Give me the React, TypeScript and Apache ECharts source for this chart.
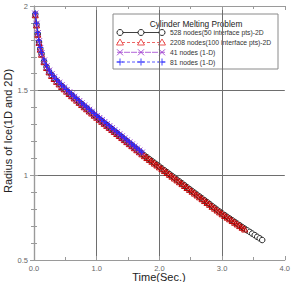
import React, { useEffect, useRef } from "react";
import * as echarts from "echarts";

// Time (s) for the 528-node 2-D run
const time528 = [
  0.02, 0.04, 0.06, 0.08, 0.1, 0.12, 0.16, 0.2, 0.24, 0.28, 0.32, 0.36, 0.4, 0.44, 0.48, 0.52, 0.56,
  0.6, 0.64, 0.68, 0.72, 0.76, 0.8, 0.84, 0.88, 0.92, 0.96, 1.0,
  1.04, 1.08, 1.12, 1.16, 1.2, 1.24, 1.28, 1.32, 1.36, 1.4, 1.44, 1.48, 1.52, 1.56, 1.6, 1.64, 1.68,
  1.72, 1.76,
  1.8, 1.84, 1.88, 1.92, 1.96, 2.0, 2.04, 2.08, 2.12, 2.16, 2.2,
  2.24, 2.28, 2.32, 2.36, 2.4, 2.44, 2.48, 2.52, 2.56, 2.6, 2.64, 2.68, 2.72, 2.76, 2.8, 2.84, 2.88,
  2.92, 2.96, 3.0,
  3.04, 3.08, 3.12, 3.16, 3.2, 3.24, 3.28, 3.32, 3.36,
  3.4, 3.44, 3.48, 3.52, 3.56, 3.6, 3.64,
];
const radius528 = [
  1.95, 1.89, 1.835, 1.787, 1.747, 1.717, 1.673, 1.639, 1.613, 1.592, 1.574, 1.557, 1.542, 1.527,
  1.513, 1.499, 1.485, 1.472, 1.459, 1.446, 1.433, 1.42, 1.407, 1.395, 1.382, 1.37, 1.357, 1.345,
  1.333, 1.321, 1.309, 1.297, 1.285, 1.273, 1.261, 1.249, 1.237, 1.225, 1.213, 1.201, 1.189, 1.177,
  1.165, 1.153, 1.141, 1.129, 1.118,
  1.107, 1.096, 1.085, 1.074, 1.063, 1.052, 1.041, 1.03, 1.019, 1.008, 0.997,
  0.986, 0.975, 0.964, 0.953, 0.942, 0.93, 0.919, 0.908, 0.897, 0.886, 0.875, 0.864, 0.853, 0.842,
  0.831, 0.819, 0.808, 0.797, 0.786, 0.775,
  0.765, 0.755, 0.745, 0.735, 0.725, 0.715, 0.705, 0.695, 0.685,
  0.675, 0.666, 0.656, 0.647, 0.637, 0.628, 0.618,
];

// Time (s) for the 2208-node 2-D run
const time2208 = [
  0.02, 0.04, 0.06, 0.08, 0.1, 0.12, 0.16, 0.2, 0.24, 0.28, 0.32, 0.36, 0.4, 0.44, 0.48, 0.52, 0.56,
  0.6, 0.64, 0.68, 0.72, 0.76, 0.8, 0.84, 0.88, 0.92, 0.96, 1.0,
  1.04, 1.08, 1.12, 1.16, 1.2, 1.24, 1.28, 1.32, 1.36, 1.4, 1.44, 1.48, 1.52, 1.56, 1.6, 1.64, 1.68,
  1.72, 1.76,
  1.8, 1.84, 1.88, 1.92, 1.96, 2.0, 2.04, 2.08, 2.12, 2.16, 2.2,
  2.24, 2.28, 2.32, 2.36, 2.4, 2.44, 2.48, 2.52, 2.56, 2.6, 2.64, 2.68, 2.72, 2.76, 2.8, 2.84, 2.88,
  2.92, 2.96, 3.0,
  3.04, 3.08, 3.12, 3.16, 3.2, 3.24, 3.28, 3.32, 3.36,
];
const radius2208 = [
  1.948, 1.888, 1.833, 1.785, 1.745, 1.715, 1.671, 1.637, 1.611, 1.59, 1.572, 1.555, 1.54, 1.525,
  1.511, 1.497, 1.483, 1.47, 1.457, 1.444, 1.431, 1.418, 1.405, 1.393, 1.38, 1.368, 1.355, 1.343,
  1.331, 1.319, 1.307, 1.295, 1.283, 1.271, 1.259, 1.247, 1.235, 1.223, 1.211, 1.199, 1.187, 1.175,
  1.163, 1.151, 1.139, 1.127, 1.116,
  1.105, 1.094, 1.083, 1.072, 1.061, 1.05, 1.039, 1.028, 1.017, 1.006, 0.995,
  0.984, 0.973, 0.962, 0.951, 0.94, 0.928, 0.917, 0.906, 0.895, 0.884, 0.873, 0.862, 0.851, 0.84,
  0.829, 0.817, 0.806, 0.795, 0.784, 0.773,
  0.763, 0.753, 0.743, 0.733, 0.723, 0.713, 0.703, 0.693, 0.683,
];

// Time (s) for the 1-D runs
const time1D = [
  0.02, 0.04, 0.06, 0.08, 0.1, 0.12, 0.16, 0.2, 0.24, 0.28, 0.32, 0.36, 0.4, 0.44, 0.48, 0.52, 0.56,
  0.6, 0.64, 0.68, 0.72, 0.76, 0.8, 0.84, 0.88, 0.92, 0.96, 1.0,
  1.04, 1.08, 1.12, 1.16, 1.2, 1.24, 1.28, 1.32, 1.36, 1.4, 1.44, 1.48, 1.52, 1.56, 1.6, 1.64, 1.68,
  1.72,
];
const radius41 = [
  1.955, 1.895, 1.84, 1.792, 1.752, 1.722, 1.678, 1.644, 1.618, 1.597, 1.579, 1.562, 1.547, 1.532,
  1.518, 1.504, 1.49, 1.477, 1.464, 1.451, 1.438, 1.425, 1.412, 1.4, 1.387, 1.375, 1.362, 1.35,
  1.338, 1.326, 1.314, 1.302, 1.29, 1.278, 1.266, 1.254, 1.242, 1.23, 1.218, 1.206, 1.194, 1.182,
  1.17, 1.158, 1.146, 1.134,
];
const radius81 = [
  1.958, 1.898, 1.843, 1.795, 1.755, 1.725, 1.681, 1.647, 1.621, 1.6, 1.582, 1.565, 1.55, 1.535,
  1.521, 1.507, 1.493, 1.48, 1.467, 1.454, 1.441, 1.428, 1.415, 1.403, 1.39, 1.378, 1.365, 1.353,
  1.341, 1.329, 1.317, 1.305, 1.293, 1.281, 1.269, 1.257, 1.245, 1.233, 1.221, 1.209, 1.197, 1.185,
  1.173, 1.161, 1.149, 1.137,
];

const seriesNames = [
  "528 nodes(50 interface pts)-2D",
  "2208 nodes(100 interface pts)-2D",
  "41 nodes (1-D)",
  "81 nodes (1-D)",
];
const legendTitle = "Cylinder Melting Problem";
const xTitle = "Time(Sec.)";
const yTitle = "Radius of Ice(1D and 2D)";

const CROSS = "path://M0,0L10,10M10,0L0,10";
const PLUS = "path://M5,0L5,10M0,5L10,5";

const pairs = (xs: number[], ys: number[]) => xs.map((x, i) => [x, ys[i]]);

const FONT = "Liberation Sans, Arial, sans-serif";

function legendGraphic() {
  const left = 113;
  const top = 14;
  const w = 165;
  const h = 55;
  const xs = [120, 141, 162];
  const rows = [32.5, 42.5, 52.3, 62];
  const els: any[] = [
    {
      type: "rect",
      shape: { x: left, y: top, width: w, height: h },
      style: { fill: "#fff", stroke: "#8a8a8a", lineWidth: 1 },
    },
    {
      type: "text",
      x: 196,
      y: 23.5,
      style: {
        text: legendTitle,
        fill: "#222",
        font: `8.3px ${FONT}`,
        align: "center",
        verticalAlign: "middle",
      },
    },
  ];
  const colors = ["#111", "#e84040", "#a040d0", "#3030ff"];
  const dashes = [null, [3, 2], [6, 1], [3, 2]];
  rows.forEach((y, i) => {
    els.push({
      type: "line",
      shape: { x1: 117, y1: y, x2: 165, y2: y },
      style: { stroke: colors[i], lineWidth: 0.8, lineDash: dashes[i] || undefined },
    });
    xs.forEach((cx) => {
      if (i === 0) {
        els.push({
          type: "circle",
          shape: { cx, cy: y, r: 3 },
          style: { fill: "#fff", stroke: colors[i], lineWidth: 0.9 },
        });
      } else if (i === 1) {
        els.push({
          type: "polygon",
          shape: { points: [[cx, y - 3.5], [cx + 3.5, y + 2.5], [cx - 3.5, y + 2.5]] },
          style: { fill: "#fff", stroke: colors[i], lineWidth: 0.9 },
        });
      } else if (i === 2) {
        els.push(
          { type: "line", shape: { x1: cx - 3, y1: y - 3, x2: cx + 3, y2: y + 3 }, style: { stroke: colors[i], lineWidth: 0.9 } },
          { type: "line", shape: { x1: cx - 3, y1: y + 3, x2: cx + 3, y2: y - 3 }, style: { stroke: colors[i], lineWidth: 0.9 } }
        );
      } else {
        els.push(
          { type: "line", shape: { x1: cx - 3.5, y1: y, x2: cx + 3.5, y2: y }, style: { stroke: colors[i], lineWidth: 0.9 } },
          { type: "line", shape: { x1: cx, y1: y - 3.5, x2: cx, y2: y + 3.5 }, style: { stroke: colors[i], lineWidth: 0.9 } }
        );
      }
    });
    els.push({
      type: "text",
      x: 170,
      y,
      style: {
        text: seriesNames[i],
        fill: "#333",
        font: `6.8px ${FONT}`,
        align: "left",
        verticalAlign: "middle",
      },
    });
  });
  return { type: "group", z: 100, children: els };
}

export default function App() {
  const ref = useRef<HTMLDivElement>(null);

  useEffect(() => {
    if (!ref.current) return;
    const chart = echarts.init(ref.current, undefined, { renderer: "svg" });

    const frame = { show: true, lineStyle: { color: "#9a9a9a", width: 1.2 } };
    const tickStyle = { show: true, inside: true, length: 4, lineStyle: { color: "#9a9a9a" } };
    const minorStyle = { show: true, length: 3, lineStyle: { color: "#9a9a9a" } };
    const grid = { show: true, showMinLine: false, showMaxLine: false, lineStyle: { color: "#6e6e6e", width: 1 } };
    const labelStyle = { color: "#666", fontSize: 7.5, fontFamily: FONT };

    chart.setOption({
      animation: false,
      backgroundColor: "#fff",
      grid: { left: 34, right: 6, top: 6, bottom: 22, containLabel: false },
      xAxis: [
        {
          type: "value",
          min: 0,
          max: 4,
          interval: 1,
          position: "bottom",
          axisLine: frame,
          axisTick: tickStyle,
          minorTick: { ...minorStyle, splitNumber: 2 },
          splitLine: grid,
          axisLabel: { ...labelStyle, margin: 4, formatter: (v: number) => v.toFixed(1) },
        },
        {
          type: "value",
          min: 0,
          max: 4,
          interval: 1,
          position: "top",
          axisLine: frame,
          axisTick: tickStyle,
          minorTick: { ...minorStyle, splitNumber: 2 },
          splitLine: { show: false },
          axisLabel: { show: false },
        },
      ],
      yAxis: [
        {
          type: "value",
          min: 0.5,
          max: 2,
          interval: 0.5,
          position: "left",
          axisLine: frame,
          axisTick: tickStyle,
          minorTick: { ...minorStyle, splitNumber: 5 },
          splitLine: grid,
          axisLabel: { ...labelStyle, margin: 6 },
        },
        {
          type: "value",
          min: 0.5,
          max: 2,
          interval: 0.5,
          position: "right",
          axisLine: frame,
          axisTick: tickStyle,
          minorTick: { ...minorStyle, splitNumber: 5 },
          splitLine: { show: false },
          axisLabel: { show: false },
        },
      ],
      series: [
        {
          type: "line",
          name: seriesNames[0],
          data: pairs(time528, radius528),
          symbol: "circle",
          symbolSize: 5.5,
          showAllSymbol: true,
          itemStyle: { color: "#fff", borderColor: "#111", borderWidth: 0.9 },
          lineStyle: { color: "#111", width: 1 },
          z: 2,
        },
        {
          type: "line",
          name: seriesNames[1],
          data: pairs(time2208, radius2208),
          symbol: "triangle",
          symbolSize: 6,
          showAllSymbol: true,
          itemStyle: { color: "rgba(255,255,255,0)", borderColor: "#c00000", borderWidth: 1 },
          lineStyle: { color: "#c00000", width: 1, type: [3, 2] },
          z: 3,
        },
        {
          type: "line",
          name: seriesNames[2],
          data: pairs(time1D, radius41),
          symbol: CROSS,
          symbolSize: 6,
          showAllSymbol: true,
          itemStyle: { color: "none", borderColor: "#9030d0", borderWidth: 1 },
          lineStyle: { color: "#9030d0", width: 1 },
          z: 4,
        },
        {
          type: "line",
          name: seriesNames[3],
          data: pairs(time1D, radius81),
          symbol: PLUS,
          symbolSize: 6,
          showAllSymbol: true,
          itemStyle: { color: "none", borderColor: "#2a2aff", borderWidth: 1 },
          lineStyle: { color: "#2a2aff", width: 1, type: [3, 2] },
          z: 5,
        },
      ],
      graphic: [
        legendGraphic(),
        {
          type: "text",
          x: 159,
          y: 277,
          style: {
            text: xTitle,
            fill: "#222",
            font: `11px ${FONT}`,
            align: "center",
            verticalAlign: "middle",
          },
        },
        {
          type: "text",
          x: 8,
          y: 131,
          rotation: Math.PI / 2,
          style: {
            text: yTitle,
            fill: "#222",
            font: `11px ${FONT}`,
            align: "center",
            verticalAlign: "middle",
          },
        },
      ],
    });

    return () => chart.dispose();
  }, []);

  return (
    <div
      ref={ref}
      style={{ position: "fixed", left: 0, top: 0, width: 293, height: 282 }}
    />
  );
}
